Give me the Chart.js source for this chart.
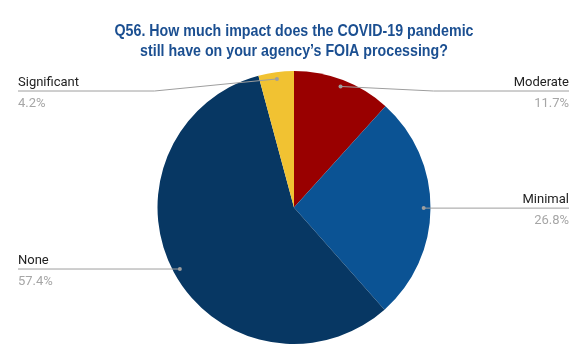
<!DOCTYPE html>
<html>
<head>
<meta charset="utf-8">
<script src="https://cdn.jsdelivr.net/npm/chart.js@4"></script>
<style>
  html, body { margin: 0; padding: 0; background: #fff; }
  #wrap { width: 588px; height: 364px; }
</style>
</head>
<body>
<div id="wrap"><canvas id="pie"></canvas></div>
<script>
// дані з діаграми
const categories = ['Moderate', 'Minimal', 'None', 'Significant'];
const shares = [11.7, 26.8, 57.4, 4.2];
const sliceColors = ['#990000', '#0b5394', '#073763', '#f1c232'];
const titleLines = ['Q56. How much impact does the COVID-19 pandemic',
                    'still have on your agency\u2019s FOIA processing?'];

/* ---- заголовок (вузький шрифт імітуємо стисканням) ---- */
const narrowTitle = {
    id: 'narrowTitle',
    afterDraw(chart) {
        const ctx = chart.ctx;
        ctx.save();
        ctx.font = 'bold 17px "Liberation Sans", Arial';
        ctx.fillStyle = '#1b4f91';
        ctx.textAlign = 'center';
        ctx.textBaseline = 'alphabetic';
        const k = 359 / ctx.measureText(titleLines[0]).width;
        const cx = chart.width / 2;
        [36, 55.5].forEach((y, i) => {
            ctx.save();
            ctx.translate(cx, y);
            ctx.scale(k, 1);
            ctx.fillText(titleLines[i], 0, 0);
            ctx.restore();
        });
        ctx.restore();
    }
};

/* ---- підписи з виносками ---- */
const leaderLabels = {
    id: 'leaderLabels',
    afterDatasetsDraw(chart) {
        const ctx = chart.ctx;
        const meta = chart.getDatasetMeta(0);
        const area = chart.chartArea;
        const W = chart.width;
        meta.data.forEach((arc, i) => {
            const mid = (arc.startAngle + arc.endAngle) / 2;
            const R = arc.outerRadius;
            const px = arc.x + Math.cos(mid) * R * 0.95;
            const py = arc.y + Math.sin(mid) * R * 0.95;
            const left = Math.cos(mid) < 0;
            const lineY = Math.max(py, area.top + 20);
            const edgeX = left ? 18 : W - 19;
            const elbowX = left ? arc.x - R - 3 : arc.x + R + 3;

            ctx.save();
            ctx.strokeStyle = '#9e9e9e';
            ctx.lineWidth = 1;
            ctx.beginPath();
            ctx.moveTo(px, py);
            if (Math.abs(lineY - py) > 0.5) ctx.lineTo(elbowX, lineY);
            ctx.lineTo(edgeX, lineY);
            ctx.stroke();

            ctx.fillStyle = '#9e9e9e';
            ctx.beginPath();
            ctx.arc(px, py, 2, 0, Math.PI * 2);
            ctx.fill();

            ctx.textAlign = left ? 'left' : 'right';
            ctx.textBaseline = 'alphabetic';
            ctx.font = '13px Roboto';
            ctx.fillStyle = '#222';
            ctx.fillText(categories[i], edgeX, lineY - 5);
            ctx.fillStyle = '#a6a6a6';
            ctx.fillText(shares[i].toFixed(1) + '%', edgeX, lineY + 16);
            ctx.restore();
        });
    }
};

new Chart(document.getElementById('pie'), {
    type: 'pie',
    data: {
        labels: categories,
        datasets: [{
            data: shares,
            backgroundColor: sliceColors,
            borderWidth: 0
        }]
    },
    options: {
        responsive: true,
        maintainAspectRatio: false,
        animation: false,
        layout: { padding: { top: 71, bottom: 20 } },
        plugins: {
            legend: { display: false },
            tooltip: { enabled: false },
            title: { display: false }
        }
    },
    plugins: [leaderLabels, narrowTitle]
});
</script>
</body>
</html>
